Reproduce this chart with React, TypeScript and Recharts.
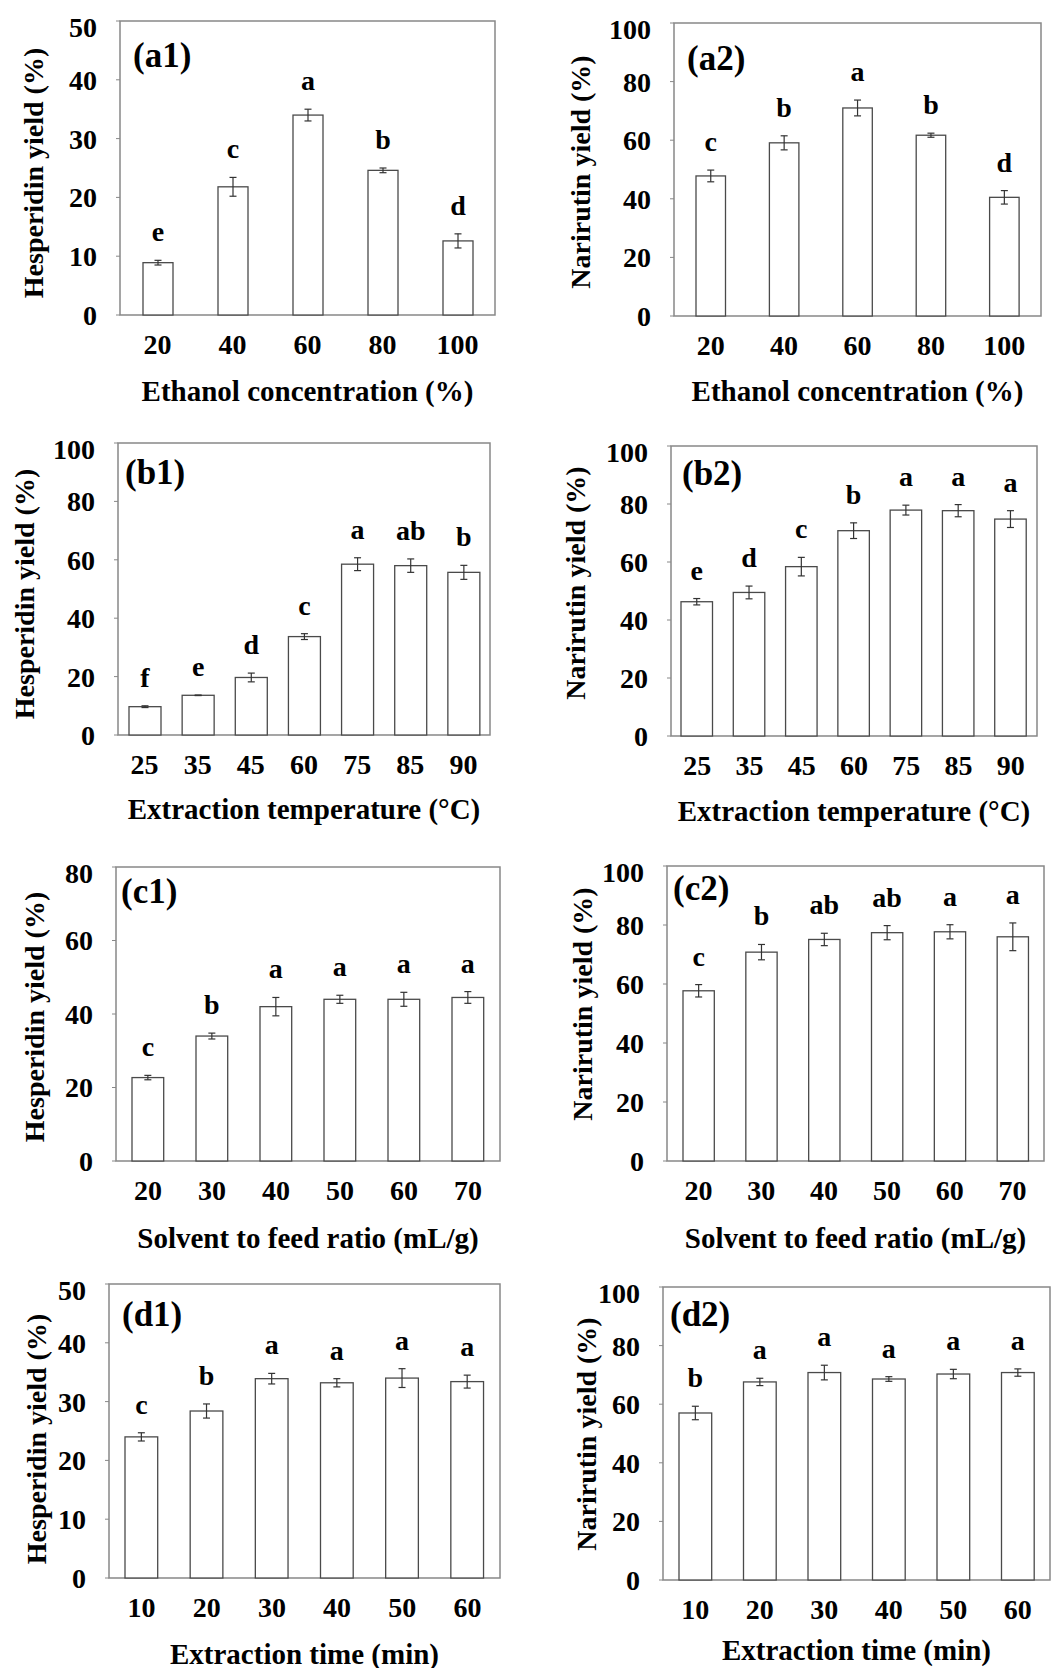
import React from 'react';
import { BarChart, Bar, ErrorBar, XAxis, YAxis, ReferenceArea } from 'recharts';

// categories
const ethanolCats = ['20', '40', '60', '80', '100'];
const tempCats = ['25', '35', '45', '60', '75', '85', '90'];
const ratioCats = ['20', '30', '40', '50', '60', '70'];
const timeCats = ['10', '20', '30', '40', '50', '60'];

// (a) ethanol concentration
const hespEthanol = [8.9, 21.8, 34.0, 24.6, 12.6];
const hespEthanolErr = [0.4, 1.6, 1.0, 0.4, 1.2];
const hespEthanolSig = ['e', 'c', 'a', 'b', 'd'];
const narEthanol = [47.8, 59.1, 71.0, 61.7, 40.5];
const narEthanolErr = [2.0, 2.4, 2.7, 0.7, 2.3];
const narEthanolSig = ['c', 'b', 'a', 'b', 'd'];

// (b) extraction temperature
const hespTemp = [9.7, 13.6, 19.7, 33.7, 58.5, 58.0, 55.7];
const hespTempErr = [0.3, 0.1, 1.5, 1.0, 2.2, 2.3, 2.4];
const hespTempSig = ['f', 'e', 'd', 'c', 'a', 'ab', 'b'];
const narTemp = [46.3, 49.5, 58.4, 70.8, 77.9, 77.7, 74.8];
const narTempErr = [1.1, 2.2, 3.2, 2.7, 1.7, 2.1, 2.9];
const narTempSig = ['e', 'd', 'c', 'b', 'a', 'a', 'a'];

// (c) solvent to feed ratio
const hespRatio = [22.7, 34.0, 42.0, 44.0, 44.0, 44.5];
const hespRatioErr = [0.6, 0.8, 2.5, 1.1, 1.9, 1.6];
const hespRatioSig = ['c', 'b', 'a', 'a', 'a', 'a'];
const narRatio = [57.7, 70.8, 75.1, 77.4, 77.7, 76.0];
const narRatioErr = [2.1, 2.6, 2.1, 2.4, 2.4, 4.7];
const narRatioSig = ['c', 'b', 'ab', 'ab', 'a', 'a'];

// (d) extraction time
const hespTime = [24.0, 28.4, 33.9, 33.2, 34.0, 33.4];
const hespTimeErr = [0.7, 1.2, 0.9, 0.7, 1.6, 1.1];
const hespTimeSig = ['c', 'b', 'a', 'a', 'a', 'a'];
const narTime = [57.0, 67.6, 70.8, 68.6, 70.3, 70.8];
const narTimeErr = [2.3, 1.25, 2.5, 0.8, 1.6, 1.25];
const narTimeSig = ['b', 'a', 'a', 'a', 'a', 'a'];

// y ticks
const ticks50 = [0, 10, 20, 30, 40, 50];
const ticks80 = [0, 20, 40, 60, 80];
const ticks100 = [0, 20, 40, 60, 80, 100];

const FONT = '"Liberation Serif", "Times New Roman", serif';
const HESP = 'Hesperidin yield (%)';
const NAR = 'Narirutin yield (%)';

const build = (cats: string[], vals: number[], errs: number[], sig: string[]) =>
  cats.map((c, i) => ({ cat: c, value: vals[i], err: errs[i], sig: sig[i] }));

// white bar with its significance letter just above the error bar
const SigBar = (props: any) => {
  const { x, y, width, height, payload } = props;
  const perUnit = payload.value ? height / payload.value : 0;
  const errTop = y - payload.err * perUnit;
  return (
    <g>
      <rect x={x} y={y} width={width} height={height} fill="#fff" stroke="#4a4a4a" strokeWidth={1.3} />
      <text
        x={x + width / 2}
        y={errTop - 19}
        textAnchor="middle"
        fontFamily={FONT}
        fontWeight="bold"
        fontSize={28}
        fill="#000"
      >
        {payload.sig}
      </text>
    </g>
  );
};

interface PanelProps {
  data: any[];
  ticks: number[];
  box: number[]; // plot left, top, right, bottom
  barSize: number;
  tag: string;
  yTitle: string;
  xTitle: string;
  yTitleDx: number;
  yTitleDy: number;
  tagDx: number;
  tagDy: number;
  xTitleDy: number;
}

const Panel: React.FC<PanelProps> = (p) => {
  const [l, t, r, b] = p.box;
  const yMax = p.ticks[p.ticks.length - 1];
  const w = r - l + 110;
  const h = b - t + 70;
  const tickStyle = { fill: '#000', fontSize: 28, fontWeight: 'bold', fontFamily: FONT };
  return (
    <>
      <div style={{ position: 'absolute', left: l - 100, top: t - 10, width: w, height: h }}>
        <BarChart width={w} height={h} data={p.data} margin={{ top: 10, right: 10, bottom: 0, left: 0 }}>
          <XAxis
            dataKey="cat"
            height={60}
            interval={0}
            axisLine={false}
            tickLine={false}
            tickSize={0}
            tickMargin={19}
            tick={tickStyle}
          />
          <YAxis
            domain={[0, yMax]}
            ticks={p.ticks}
            width={100}
            axisLine={false}
            tickSize={4}
            tickMargin={19}
            tickLine={{ stroke: '#888' }}
            tick={tickStyle}
          />
          <ReferenceArea y1={0} y2={yMax} fill="none" stroke="#888" strokeWidth={1.5} fillOpacity={0} />
          <Bar dataKey="value" barSize={p.barSize} shape={SigBar} isAnimationActive={false}>
            <ErrorBar dataKey="err" width={3.5} stroke="#333" strokeWidth={1.2} />
          </Bar>
        </BarChart>
      </div>
      <div
        style={{
          position: 'absolute',
          left: l + p.yTitleDx,
          top: (t + b) / 2 + p.yTitleDy,
          transform: 'translate(-50%, -50%) rotate(-90deg)',
          whiteSpace: 'nowrap',
          fontFamily: FONT,
          fontWeight: 'bold',
          fontSize: 28,
          lineHeight: 1,
        }}
      >
        {p.yTitle}
      </div>
      <div
        style={{
          position: 'absolute',
          left: (l + r) / 2,
          top: b + p.xTitleDy - 9.5,
          transform: 'translate(-50%, -50%)',
          whiteSpace: 'nowrap',
          fontFamily: FONT,
          fontWeight: 'bold',
          fontSize: 29,
          lineHeight: 1,
        }}
      >
        {p.xTitle}
      </div>
      <div
        style={{
          position: 'absolute',
          left: l + p.tagDx,
          top: t + p.tagDy - 0.8375 * 35,
          whiteSpace: 'nowrap',
          fontFamily: FONT,
          fontWeight: 'bold',
          fontSize: 35,
          lineHeight: 1,
        }}
      >
        {p.tag}
      </div>
    </>
  );
};

export default function App() {
  return (
    <div style={{ position: 'absolute', left: 0, top: 0, width: 1063, height: 1668, background: '#fff', overflow: 'hidden' }}>
      <Panel
        data={build(ethanolCats, hespEthanol, hespEthanolErr, hespEthanolSig)}
        ticks={ticks50} box={[120, 21, 495, 315]} barSize={30} tag="(a1)"
        yTitle={HESP} xTitle="Ethanol concentration (%)"
        yTitleDx={-86} yTitleDy={5} tagDx={13} tagDy={46} xTitleDy={85}
      />
      <Panel
        data={build(ethanolCats, narEthanol, narEthanolErr, narEthanolSig)}
        ticks={ticks100} box={[674, 23, 1041, 316]} barSize={29.5} tag="(a2)"
        yTitle={NAR} xTitle="Ethanol concentration (%)"
        yTitleDx={-93} yTitleDy={2} tagDx={13} tagDy={47} xTitleDy={84}
      />
      <Panel
        data={build(tempCats, hespTemp, hespTempErr, hespTempSig)}
        ticks={ticks100} box={[118, 443, 490, 735]} barSize={32} tag="(b1)"
        yTitle={HESP} xTitle="Extraction temperature (°C)"
        yTitleDx={-93} yTitleDy={5} tagDx={7} tagDy={41} xTitleDy={83}
      />
      <Panel
        data={build(tempCats, narTemp, narTempErr, narTempSig)}
        ticks={ticks100} box={[671, 446, 1037, 736]} barSize={31.5} tag="(b2)"
        yTitle={NAR} xTitle="Extraction temperature (°C)"
        yTitleDx={-95} yTitleDy={-8} tagDx={11} tagDy={39} xTitleDy={84}
      />
      <Panel
        data={build(ratioCats, hespRatio, hespRatioErr, hespRatioSig)}
        ticks={ticks80} box={[116, 867, 500, 1161]} barSize={31.7} tag="(c1)"
        yTitle={HESP} xTitle="Solvent to feed ratio (mL/g)"
        yTitleDx={-81} yTitleDy={3} tagDx={5} tagDy={36} xTitleDy={86}
      />
      <Panel
        data={build(ratioCats, narRatio, narRatioErr, narRatioSig)}
        ticks={ticks100} box={[667, 866, 1044, 1161]} barSize={31.3} tag="(c2)"
        yTitle={NAR} xTitle="Solvent to feed ratio (mL/g)"
        yTitleDx={-84} yTitleDy={-10} tagDx={6} tagDy={34} xTitleDy={86}
      />
      <Panel
        data={build(timeCats, hespTime, hespTimeErr, hespTimeSig)}
        ticks={ticks50} box={[109, 1284, 500, 1578]} barSize={32.7} tag="(d1)"
        yTitle={HESP} xTitle="Extraction time (min)"
        yTitleDx={-72} yTitleDy={8} tagDx={13} tagDy={42} xTitleDy={85}
      />
      <Panel
        data={build(timeCats, narTime, narTimeErr, narTimeSig)}
        ticks={ticks100} box={[663, 1287, 1050, 1580]} barSize={32.7} tag="(d2)"
        yTitle={NAR} xTitle="Extraction time (min)"
        yTitleDx={-76} yTitleDy={0} tagDx={7} tagDy={39} xTitleDy={79}
      />
    </div>
  );
}
